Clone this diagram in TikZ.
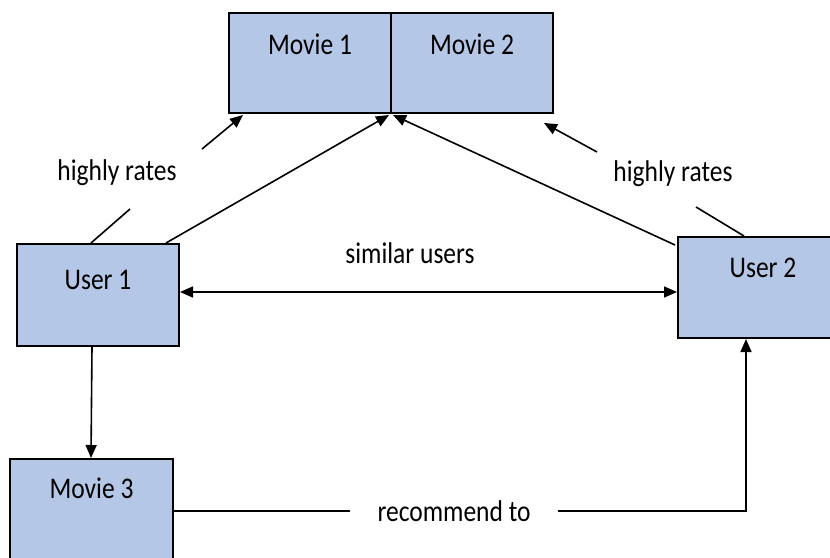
\documentclass[tikz,border=0pt]{standalone}
\usepackage{fontspec}
\setmainfont{Carlito}[FakeStretch=0.85]
\usetikzlibrary{arrows.meta,calc}
\definecolor{boxfill}{HTML}{B4C7E7}
\begin{document}
\begin{tikzpicture}[x=1pt,y=-1pt,
  font=\fontsize{30}{36}\selectfont,
  box/.style={draw=black, line width=2pt, fill=boxfill, inner sep=0pt,
    anchor=north west},
  link/.style={draw=black, line width=1.6pt},
  tip/.style={-{Triangle[length=13pt,width=11pt]}},
  bothtips/.style={{Triangle[length=13pt,width=11pt]}-{Triangle[length=13pt,width=11pt]}},
  lbl/.style={inner sep=0pt},
]
\useasboundingbox (0,0) rectangle (830,557);
\clip (0,0) rectangle (830,557);

% boxes
\node[box, minimum width=162pt, text height=41pt, text depth=59pt] (m1) at (228,12) {Movie 1};
\node[box, minimum width=162pt, text height=41pt, text depth=59pt] (m2) at (390,12) {Movie 2};
\node[box, minimum width=162pt, text height=45pt, text depth=57pt] (u1) at (16,243) {User 1};
\node[box, minimum width=170pt, text height=40pt, text depth=61pt] (u2) at (677,236) {User 2};
\node[box, minimum width=163pt, text height=39pt, text depth=81pt] (m3) at (9,458) {Movie 3};

% labels
\node[lbl] (hr1) at (117,173) {highly rates};
\node[lbl] (hr2) at (673,174) {highly rates};
\node[lbl] (sim) at (410,253) {similar users};
\node[lbl, inner xsep=27pt] (rec) at (454,511) {recommend to};

% user 1 rates movie 1 (line broken around its label)
\draw[link] ($(u1.north west)+(75,0)$) -- ($(hr1)+(13,36)$);
\draw[link, tip] ($(hr1)+(85,-24)$) -- ($(m1.south west)+(15,1)$);

% user 2 rates movie 2 (line broken around its label)
\draw[link] ($(u2.north west)+(67,0)$) -- ($(hr2)+(23,33)$);
\draw[link, tip] ($(hr2)+(-76,-22)$) -- ($(m2.south east)+(-10,9)$);

% both users point at the movie pair
\draw[link, tip] ($(u1.north west)+(150,0)$) -- ($(m1.south east)+(-3,1)$);
\draw[link, tip] ($(u2.north west)+(-2,9)$) -- ($(m2.south west)+(3,1)$);

% similarity between users
\draw[link, bothtips] ($(u1.north east)+(0,49)$) -- ($(u2.north west)+(0,56)$);

% user 1 leads to movie 3
\draw[link, tip] ($(u1.south west)+(76,0)$) -- ($(m3.north west)+(82,0)$);

% movie 3 recommended to user 2
\draw[link] ($(m3.north east)+(0,53)$) -- (rec.west);
\draw[link, tip] (rec.east) -| ($(u2.south west)+(69,0)$);
\end{tikzpicture}
\end{document}
